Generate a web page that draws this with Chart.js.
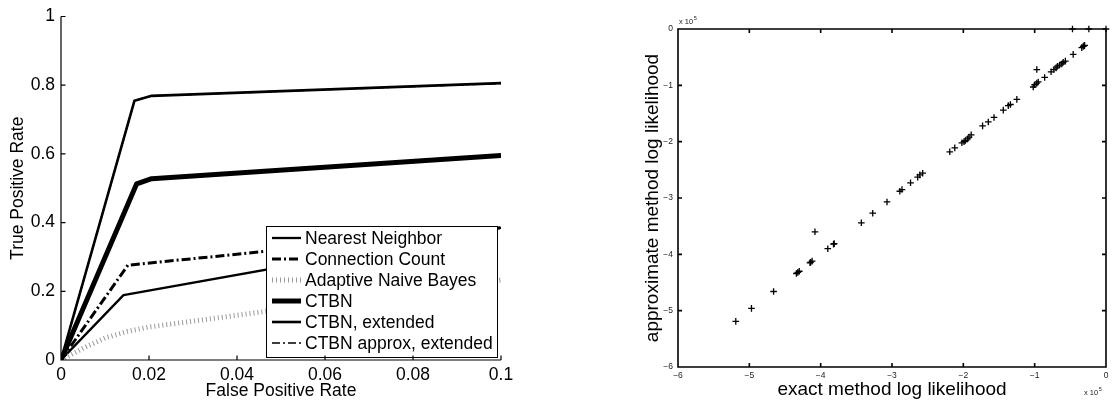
<!DOCTYPE html>
<html>
<head>
<meta charset="utf-8">
<script src="https://cdn.jsdelivr.net/npm/chart.js@4.4.0/dist/chart.umd.min.js"></script>
<style>
  html, body { margin: 0; padding: 0; background: #fff; }
  #wrap { position: relative; width: 1116px; height: 405px; }
  canvas { position: absolute; top: 0; }
  #roc { left: 0; }
  #ll { left: 558px; }
</style>
</head>
<body>
<div id="wrap">
  <canvas id="roc" width="558" height="405"></canvas>
  <canvas id="ll" width="558" height="405"></canvas>
</div>
<script>
// ROC curves (false positive rate 0..0.1)
const fprNN = [0, 0.0142, 0.1];
const tprNN = [0, 0.189, 0.385];
const fprCC = [0, 0.0152, 0.1];
const tprCC = [0, 0.276, 0.385];
const fprANB = [0, 0.005, 0.01, 0.015, 0.02, 0.1];
const tprANB = [0, 0.034, 0.064, 0.083, 0.096, 0.233];
const fprCTBN = [0, 0.0172, 0.0206, 0.1];
const tprCTBN = [0, 0.513, 0.528, 0.595];
const fprExt = [0, 0.0167, 0.0206, 0.1];
const tprExt = [0, 0.755, 0.769, 0.806];
const fprApprox = [0, 0.0167, 0.0206, 0.1];
const tprApprox = [0, 0.755, 0.769, 0.805];
const fprTicks = [0, 0.02, 0.04, 0.06, 0.08, 0.1];
const tprTicks = [0, 0.2, 0.4, 0.6, 0.8, 1];

// log likelihoods per test sequence, in units of 1e5
const exactLL = [-5.19, -4.97, -4.66, -4.34, -4.32, -4.30, -4.15, -4.14, -4.12, -4.08,
  -3.90, -3.82, -3.81, -3.43, -3.27, -3.07, -2.89, -2.86, -2.74, -2.64, -2.61, -2.57,
  -2.19, -2.12, -2.02, -1.99, -1.97, -1.94, -1.92, -1.89, -1.73, -1.65, -1.57,
  -1.44, -1.37, -1.34, -1.25, -1.02, -1.00, -0.97, -0.95, -0.97, -0.86,
  -0.77, -0.73, -0.70, -0.68, -0.65, -0.62, -0.60, -0.57, -0.46,
  -0.34, -0.32, -0.31, -0.30, -0.47, -0.24, 0];
const approxLL = [-5.19, -4.96, -4.66, -4.34, -4.32, -4.30, -4.15, -4.14, -4.12, -3.60,
  -3.90, -3.82, -3.81, -3.44, -3.27, -3.07, -2.88, -2.85, -2.73, -2.63, -2.59, -2.56,
  -2.18, -2.11, -2.02, -2.00, -1.98, -1.95, -1.92, -1.88, -1.72, -1.65, -1.57,
  -1.44, -1.36, -1.34, -1.25, -1.03, -0.99, -0.96, -0.94, -0.72, -0.86,
  -0.76, -0.72, -0.69, -0.66, -0.64, -0.62, -0.59, -0.57, -0.45,
  -0.33, -0.31, -0.30, -0.29, 0, 0, 0];
const llTicks = [-6, -5, -4, -3, -2, -1, 0];

const FONT = '"Liberation Sans", Arial, Helvetica, sans-serif';
Chart.defaults.font.family = FONT;
Chart.defaults.color = '#000';

// axis lines plus matlab style ticks pointing into the plot
const innerTicks = {
  id: 'innerTicks',
  afterDraw(chart, args, opts) {
    const {ctx, chartArea: a, scales} = chart;
    const len = opts.length;
    ctx.save();
    ctx.strokeStyle = '#000';
    ctx.lineWidth = opts.width;
    ctx.beginPath();
    if (opts.box) {
      ctx.rect(a.left, a.top, a.right - a.left, a.bottom - a.top);
    } else {
      ctx.moveTo(a.left, a.top);
      ctx.lineTo(a.left, a.bottom);
      ctx.lineTo(a.right, a.bottom);
    }
    scales.x.ticks.forEach(t => {
      const px = scales.x.getPixelForValue(t.value);
      ctx.moveTo(px, a.bottom);
      ctx.lineTo(px, a.bottom - len);
      if (opts.box) { ctx.moveTo(px, a.top); ctx.lineTo(px, a.top + len); }
    });
    scales.y.ticks.forEach(t => {
      const py = scales.y.getPixelForValue(t.value);
      ctx.moveTo(a.left, py);
      ctx.lineTo(a.left + len, py);
      if (opts.box) { ctx.moveTo(a.right, py); ctx.lineTo(a.right - len, py); }
    });
    ctx.stroke();
    ctx.restore();
  }
};

// boxed legend sitting in the lower right corner of the plot
const boxLegend = {
  id: 'boxLegend',
  afterDatasetsDraw(chart, args, opts) {
    const {ctx, chartArea: a} = chart;
    const left = Math.round(a.right - opts.right - opts.width);
    const top = Math.round(a.bottom - opts.bottom - opts.height);
    ctx.save();
    ctx.fillStyle = '#fff';
    ctx.fillRect(left, top, opts.width, opts.height);
    ctx.strokeStyle = '#000';
    ctx.lineWidth = 1;
    ctx.strokeRect(left + 0.5, top + 0.5, opts.width, opts.height);
    ctx.font = opts.font;
    ctx.textBaseline = 'middle';
    chart.data.datasets.forEach((ds, i) => {
      const yy = top + opts.firstRow + i * opts.rowGap;
      ctx.beginPath();
      ctx.setLineDash(ds.borderDash || []);
      ctx.lineWidth = ds.borderWidth;
      ctx.strokeStyle = ds.borderColor;
      ctx.moveTo(left + 6, yy);
      ctx.lineTo(left + 35, yy);
      ctx.stroke();
      ctx.setLineDash([]);
      ctx.fillStyle = '#000';
      ctx.fillText(ds.label, left + 39, yy + 1);
    });
    ctx.restore();
  }
};

// "x 10^5" multipliers for the log likelihood axes
const expLabels = {
  id: 'expLabels',
  afterDraw(chart) {
    const {ctx, chartArea: a} = chart;
    const put = (x, y) => {
      ctx.font = '7.5px ' + FONT;
      ctx.fillText('x 10', x, y);
      const w = ctx.measureText('x 10').width;
      ctx.font = '5.5px ' + FONT;
      ctx.fillText('5', x + w + 0.5, y - 4);
    };
    ctx.save();
    ctx.fillStyle = '#222';
    ctx.textBaseline = 'alphabetic';
    put(a.left + 1, a.top - 5);
    put(a.right - 22, a.bottom + 28);
    ctx.restore();
  }
};

function rocLine(label, xs, ys, style) {
  return Object.assign({
    label,
    data: xs.map((x, i) => ({x, y: ys[i]})),
    pointRadius: 0,
    fill: false,
    tension: 0,
    borderJoinStyle: 'round',
    borderColor: '#000'
  }, style);
}

const rocFont = {size: 17.5, lineHeight: 1.2};

new Chart(document.getElementById('roc'), {
  type: 'line',
  data: {
    datasets: [
      rocLine('Nearest Neighbor', fprNN, tprNN, {borderWidth: 2.3, order: 6}),
      rocLine('Connection Count', fprCC, tprCC, {borderWidth: 3, borderDash: [9, 3, 2, 3], order: 5}),
      rocLine('Adaptive Naive Bayes', fprANB, tprANB, {borderWidth: 5, borderColor: '#999', borderDash: [1, 3], order: 4}),
      rocLine('CTBN', fprCTBN, tprCTBN, {borderWidth: 5, order: 3}),
      rocLine('CTBN, extended', fprExt, tprExt, {borderWidth: 2.6, order: 2}),
      rocLine('CTBN approx, extended', fprApprox, tprApprox, {borderWidth: 1.5, borderDash: [8, 3, 2, 3], order: 1})
    ]
  },
  options: {
    responsive: false,
    animation: false,
    events: [],
    devicePixelRatio: 1,
    layout: {padding: {top: 13, right: 57, left: 0, bottom: 0}},
    plugins: {
      legend: {display: false},
      tooltip: {enabled: false},
      innerTicks: {length: 4.5, width: 1.2, box: false},
      boxLegend: {width: 231, height: 131, right: 4, bottom: 3, firstRow: 12, rowGap: 21, font: '17.5px ' + FONT}
    },
    scales: {
      x: {
        type: 'linear', min: 0, max: 0.1,
        afterBuildTicks: s => { s.ticks = fprTicks.map(v => ({value: v})); },
        afterFit: s => { s.height = 45; },
        grid: {display: false, drawTicks: false},
        border: {display: false},
        ticks: {padding: 5, font: rocFont, maxRotation: 0, autoSkip: false, callback: v => String(v)},
        title: {display: true, text: 'False Positive Rate', font: rocFont, padding: {top: 0, bottom: 3}}
      },
      y: {
        type: 'linear', min: 0, max: 1,
        afterBuildTicks: s => { s.ticks = tprTicks.map(v => ({value: v})); },
        afterFit: s => { s.width = 61; },
        grid: {display: false, drawTicks: false},
        border: {display: false},
        ticks: {padding: 6, font: rocFont, autoSkip: false, callback: v => String(v)},
        title: {display: true, text: 'True Positive Rate', font: rocFont, padding: {top: 8, bottom: 0}}
      }
    }
  },
  plugins: [boxLegend, innerTicks]
});

const llTickFont = {size: 8.5, lineHeight: 1.2};
const llTitleFont = {size: 19, lineHeight: 1.2};
const minusLabel = v => v < 0 ? '\u2212' + Math.abs(v) : '0';

new Chart(document.getElementById('ll'), {
  type: 'scatter',
  data: {
    datasets: [{
      label: 'log likelihood',
      data: exactLL.map((x, i) => ({x, y: approxLL[i]})),
      pointStyle: 'cross',
      pointRadius: 3.3,
      pointBorderWidth: 1.3,
      borderColor: '#000',
      backgroundColor: '#000',
      clip: false
    }]
  },
  options: {
    responsive: false,
    animation: false,
    events: [],
    devicePixelRatio: 1,
    layout: {padding: {top: 29, right: 10, left: 0, bottom: 0}},
    plugins: {
      legend: {display: false},
      tooltip: {enabled: false},
      innerTicks: {length: 4, width: 1.6, box: true}
    },
    scales: {
      x: {
        type: 'linear', min: -6, max: 0,
        afterBuildTicks: s => { s.ticks = llTicks.map(v => ({value: v})); },
        afterFit: s => { s.height = 38; },
        grid: {display: false, drawTicks: false},
        border: {display: false},
        ticks: {padding: 4, font: llTickFont, color: '#222', maxRotation: 0, autoSkip: false, callback: minusLabel},
        title: {display: true, text: 'exact method log likelihood', font: llTitleFont, padding: {top: 0, bottom: 4}}
      },
      y: {
        type: 'linear', min: -6, max: 0,
        afterBuildTicks: s => { s.ticks = llTicks.map(v => ({value: v})); },
        afterFit: s => { s.width = 120; },
        grid: {display: false, drawTicks: false},
        border: {display: false},
        ticks: {padding: 5, font: llTickFont, color: '#222', autoSkip: false, callback: minusLabel},
        title: {display: true, text: 'approximate method log likelihood', font: llTitleFont, padding: {top: 83, bottom: 0}}
      }
    }
  },
  plugins: [innerTicks, expLabels]
});
</script>
</body>
</html>
